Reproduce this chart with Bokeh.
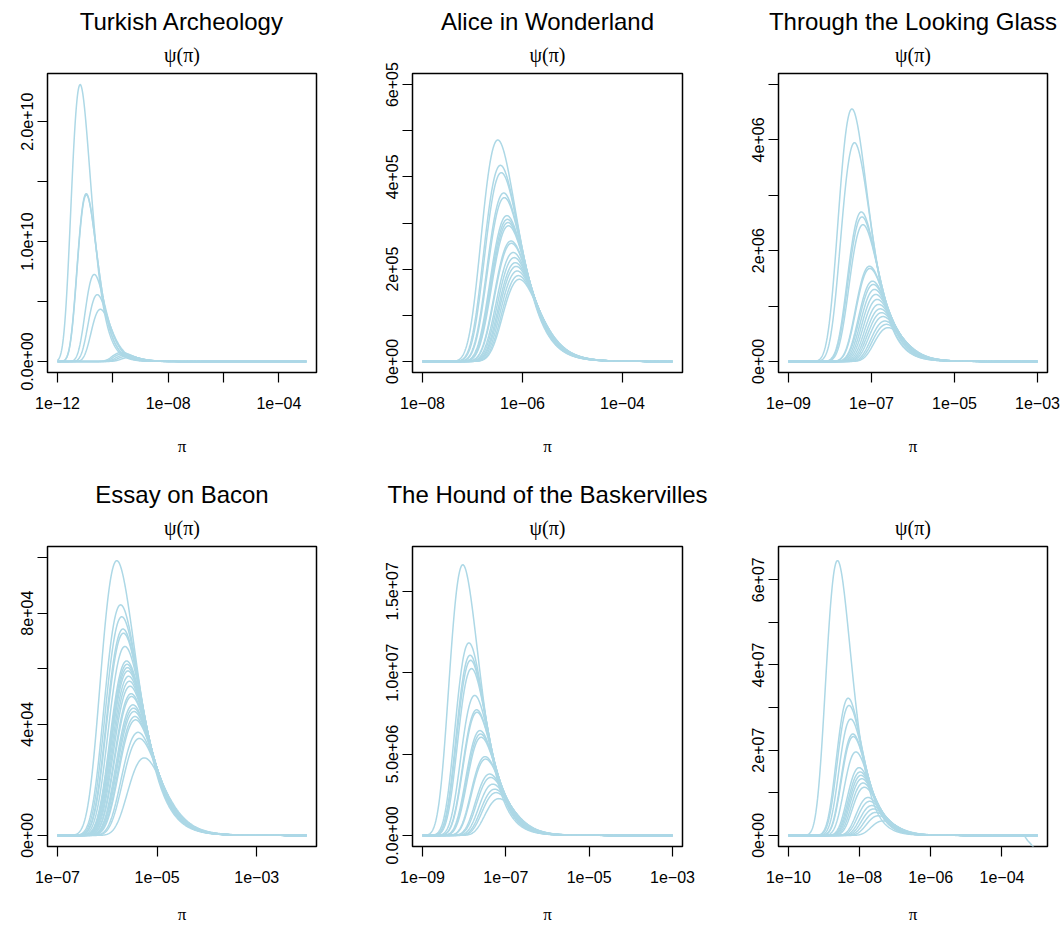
import numpy as np
from bokeh.plotting import figure
from bokeh.layouts import row, column
from bokeh.models import Range1d, FixedTicker, CustomJSTickFormatter, Title
from bokeh.embed import file_html
from bokeh.resources import INLINE

# Posterior densities psi(pi): one curve per sample, given by its mode (log10 pi)
# and its peak height.  Each curve is a Levy-type (inverse gamma, shape 1/2) density.

# --- Turkish Archeology ---
turkish_mode = [-11.18, -10.96, -10.955, -10.67, -10.56, -10.45, -9.69, -9.63, -9.55, -9.47, -9.36]
turkish_peak = [2.31e10, 1.40e10, 1.39e10, 7.26e9, 5.57e9, 4.35e9, 7.5e8, 6.5e8, 5.5e8, 4.5e8, 3.5e8]

# --- Alice in Wonderland ---
alice_mode = [-6.494, -6.441, -6.424, -6.375, -6.363, -6.312, -6.301, -6.291, -6.281,
              -6.229, -6.221, -6.185, -6.165, -6.143, -6.126, -6.105, -6.082, -6.063]
alice_peak = [4.80e5, 4.25e5, 4.09e5, 3.65e5, 3.55e5, 3.16e5, 3.08e5, 3.01e5, 2.94e5,
              2.61e5, 2.56e5, 2.36e5, 2.25e5, 2.14e5, 2.06e5, 1.96e5, 1.86e5, 1.78e5]

# --- Through the Looking Glass ---
glass_mode = [-7.471, -7.409, -7.244, -7.229, -7.205, -7.048, -7.038, -6.974, -6.956, -6.926,
              -6.895, -6.862, -6.825, -6.790, -6.757, -6.721, -6.676, -6.639, -6.598]
glass_peak = [4.56e6, 3.95e6, 2.70e6, 2.61e6, 2.47e6, 1.72e6, 1.68e6, 1.45e6, 1.39e6, 1.30e6,
              1.21e6, 1.12e6, 1.03e6, 0.95e6, 0.88e6, 0.81e6, 0.73e6, 0.67e6, 0.61e6]

# --- Essay on Bacon ---
bacon_mode = [-5.808, -5.732, -5.709, -5.684, -5.675, -5.645, -5.611, -5.602, -5.594, -5.585,
              -5.571, -5.557, -5.543, -5.520, -5.512, -5.485, -5.473, -5.462, -5.444, -5.432,
              -5.382, -5.355, -5.258]
bacon_peak = [9.89e4, 8.30e4, 7.87e4, 7.43e4, 7.28e4, 6.80e4, 6.28e4, 6.16e4, 6.04e4, 5.92e4,
              5.73e4, 5.55e4, 5.37e4, 5.10e4, 5.00e4, 4.70e4, 4.58e4, 4.46e4, 4.28e4, 4.16e4,
              3.71e4, 3.49e4, 2.79e4]

# --- The Hound of the Baskervilles ---
hound_mode = [-8.033, -7.886, -7.857, -7.844, -7.823, -7.747, -7.700, -7.692, -7.621, -7.607,
              -7.593, -7.497, -7.484, -7.389, -7.364, -7.311, -7.266, -7.233, -7.167]
hound_peak = [1.663e7, 1.183e7, 1.107e7, 1.076e7, 1.025e7, 8.60e6, 7.72e6, 7.57e6, 6.44e6, 6.23e6,
              6.03e6, 4.84e6, 4.69e6, 3.77e6, 3.56e6, 3.15e6, 2.84e6, 2.63e6, 2.26e6]

# --- untitled sixth text ---
sixth_mode = [-8.622, -8.320, -8.297, -8.249, -8.189, -8.178, -8.105, -8.014, -7.986, -7.962,
              -7.936, -7.902, -7.866, -7.762, -7.716, -7.658, -7.605, -7.545, -7.475, -7.344]
sixth_peak = [6.45e7, 3.22e7, 3.05e7, 2.73e7, 2.38e7, 2.32e7, 1.96e7, 1.59e7, 1.49e7, 1.41e7,
              1.33e7, 1.23e7, 1.13e7, 8.9e6, 8.0e6, 7.0e6, 6.2e6, 5.4e6, 4.6e6, 3.4e6]
# numerical breakdown of one curve at the upper end of the grid
sixth_tail_logx = [-3.37, -3.33, -3.28, -3.20, -3.12, -3.00]
sixth_tail_y = [0.0, -0.6e6, -1.2e6, -1.9e6, -2.7e6, -3.9e6]

# grid limits (log10 pi) and y-axis maxima
x_limits = [(-12, -3), (-8, -3), (-9, -3), (-7, -2), (-9, -3), (-10, -3)]
y_tops = [2.31e10, 6.0e5, 5.0e6, 1.0e5, 1.707e7, 6.52e7]

MINUS = "\u2212"


def xlab(e):
    return "1e" + (MINUS if e < 0 else "+") + "%02d" % abs(e)


x_tick_exp = [[-12, -10, -8, -6, -4], [-8, -6, -4], [-9, -7, -5, -3],
              [-7, -5, -3], [-9, -7, -5, -3], [-10, -8, -6, -4]]
x_tick_lab = [[xlab(-12), "", xlab(-8), "", xlab(-4)],
              [xlab(e) for e in [-8, -6, -4]],
              [xlab(e) for e in [-9, -7, -5, -3]],
              [xlab(e) for e in [-7, -5, -3]],
              [xlab(e) for e in [-9, -7, -5, -3]],
              [xlab(e) for e in [-10, -8, -6, -4]]]

y_ticks = [[0, 5e9, 1e10, 1.5e10, 2e10],
           [0, 1e5, 2e5, 3e5, 4e5, 5e5, 6e5],
           [0, 1e6, 2e6, 3e6, 4e6, 5e6],
           [0, 2e4, 4e4, 6e4, 8e4, 1e5],
           [0, 5e6, 1e7, 1.5e7],
           [0, 1e7, 2e7, 3e7, 4e7, 5e7, 6e7]]
y_tick_lab = [["0.0e+00", "", "1.0e+10", "", "2.0e+10"],
              ["0e+00", "", "2e+05", "", "4e+05", "", "6e+05"],
              ["0e+00", "", "2e+06", "", "4e+06", ""],
              ["0e+00", "", "4e+04", "", "8e+04", ""],
              ["0.0e+00", "5.0e+06", "1.0e+07", "1.5e+07"],
              ["0e+00", "", "2e+07", "", "4e+07", "", "6e+07"]]

titles = ["Turkish Archeology", "Alice in Wonderland", "Through the Looking Glass",
          "Essay on Bacon", "The Hound of the Baskervilles", None]
modes = [turkish_mode, alice_mode, glass_mode, bacon_mode, hound_mode, sixth_mode]
peaks = [turkish_peak, alice_peak, glass_peak, bacon_peak, hound_peak, sixth_peak]

FMT = """
for (let i = 0; i < vals.length; i++) {
  const v = vals[i];
  if (Math.abs(v - tick) <= 1e-6 * Math.abs(v) || (v === 0 && Math.abs(tick) < 1e-300)) return labs[i];
}
return "";
"""

widths = [365, 355, 342]
borders_lr = [(47, 49), (47, 38), (58, 15)]
row_h = 463
borders_tb = [(73, 91), (83, 80)]
pi_standoff = [25, 19]

SANS = "Liberation Sans"
SERIF = "Liberation Serif"
CURVE = "#ADD8E6"


def make_panel(k):
    col, rw = k % 3, k // 3
    lo, hi = x_limits[k]
    pad = 0.04 * (hi - lo)
    top = y_tops[k]
    bl, br = borders_lr[col]
    bt, bb = borders_tb[rw]
    p = figure(width=widths[col], height=row_h, x_axis_type="log",
               x_range=Range1d(10 ** (lo - pad), 10 ** (hi + pad)),
               y_range=Range1d(-0.04 * top, 1.04 * top),
               output_backend="svg", toolbar_location=None,
               min_border_left=bl, min_border_right=br,
               min_border_top=bt, min_border_bottom=bb)
    p.xgrid.visible = False
    p.ygrid.visible = False
    p.outline_line_color = "black"
    p.outline_line_width = 1.5
    p.background_fill_color = "white"
    p.border_fill_color = "white"

    xs = np.logspace(lo, hi, 600)
    for m, pk in zip(modes[k], peaks[k]):
        r = 10.0 ** m / xs
        ys = pk * r ** 1.5 * np.exp(1.5 * (1.0 - r))
        p.line(xs, ys, line_color=CURVE, line_width=1.5)
    if k == 5:
        p.line([10.0 ** v for v in sixth_tail_logx], sixth_tail_y, line_color=CURVE, line_width=1.5)

    xt = [10.0 ** e for e in x_tick_exp[k]]
    p.xaxis.ticker = FixedTicker(ticks=xt)
    p.xaxis.formatter = CustomJSTickFormatter(args=dict(vals=xt, labs=x_tick_lab[k]), code=FMT)
    p.yaxis.ticker = FixedTicker(ticks=y_ticks[k])
    p.yaxis.formatter = CustomJSTickFormatter(args=dict(vals=y_ticks[k], labs=y_tick_lab[k]), code=FMT)
    p.yaxis.major_label_orientation = "vertical"

    for ax in (p.xaxis[0], p.yaxis[0]):
        ax.axis_line_color = None
        ax.major_tick_in = 0
        ax.major_tick_out = 10
        ax.major_tick_line_color = "black"
        ax.major_tick_line_width = 1.2
        ax.minor_tick_line_color = None
        ax.major_label_text_font = SANS
        ax.major_label_text_font_size = "16px"
        ax.major_label_text_color = "black"
    p.xaxis.major_label_standoff = 14
    p.yaxis.major_label_standoff = 4

    p.xaxis.axis_label = "\u03c0"
    p.xaxis.axis_label_text_font = SERIF
    p.xaxis.axis_label_text_font_style = "normal"
    p.xaxis.axis_label_text_font_size = "17px"
    p.xaxis.axis_label_text_color = "black"
    p.xaxis.axis_label_standoff = pi_standoff[rw]

    p.add_layout(Title(text="\u03c8(\u03c0)", align="center", text_font=SERIF,
                       text_font_size="20px", text_font_style="normal",
                       text_color="black", standoff=15), "above")
    if titles[k]:
        p.add_layout(Title(text=titles[k], align="center", text_font=SANS,
                           text_font_size="24px", text_font_style="normal",
                           text_color="black", standoff=0), "above")
    return p


panels = [make_panel(k) for k in range(6)]
layout = column(row(*panels[:3]), row(*panels[3:]))

open("out.html", "w").write(file_html(layout, INLINE))
